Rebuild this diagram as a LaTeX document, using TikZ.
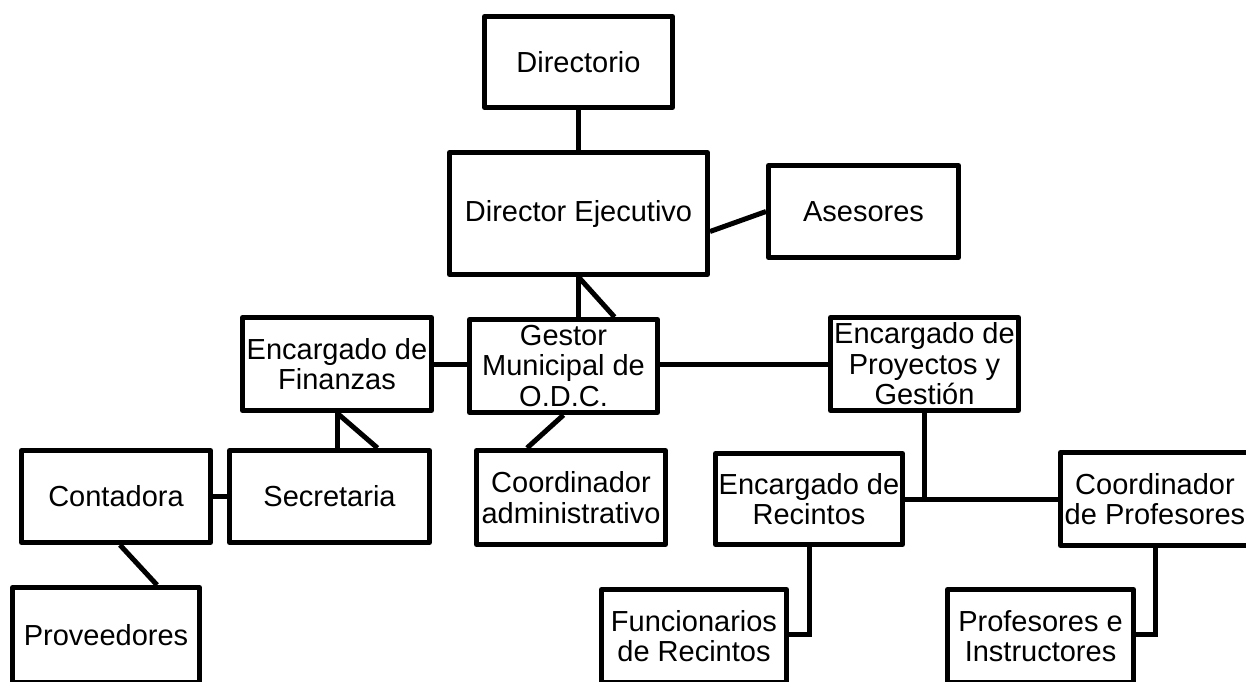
\documentclass[tikz,border=0pt]{standalone}
\usepackage{fontspec}
\setmainfont{Liberation Sans}
\usetikzlibrary{positioning}
\usetikzlibrary{calc}

\begin{document}
\begin{tikzpicture}[x=1pt,y=-1pt,
	caja/.style={draw, line width=5pt, line join=round, align=center, inner sep=0pt, font=\fontsize{29}{30.5}\selectfont},
	enlace/.style={line width=5pt}]
	\useasboundingbox (0,0) rectangle (1246,681);

	\node[caja, minimum width=188pt, minimum height=91pt] (dir) at (578.5,62) {Directorio};
	\node[caja, minimum width=258pt, minimum height=122pt] (dej) at (578.5,213.5) {Director Ejecutivo};
	\node[caja, minimum width=190pt, minimum height=92pt] (ase) at (863.5,211.5) {Asesores};
	\node[caja, minimum width=188pt, minimum height=93pt] (ges) at (563.5,366) {Gestor\\Municipal de\\O.D.C.};
	\node[caja, minimum width=189pt, minimum height=93pt] (fin) at (337,364) {Encargado de\\Finanzas};
	\node[caja, minimum width=188pt, minimum height=93pt] (pro) at (924.5,364) {Encargado de\\Proyectos y\\Gestión};
	\node[caja, minimum width=200pt, minimum height=92pt] (sec) at (329.5,496.5) {Secretaria};
	\node[caja, minimum width=189pt, minimum height=92pt] (con) at (116,496.5) {Contadora};
	\node[caja, minimum width=189pt, minimum height=94pt] (coa) at (571,497.5) {Coordinador\\administrativo};
	\node[caja, minimum width=187pt, minimum height=91pt] (rec) at (809,499) {Encargado de\\Recintos};
	\node[caja, minimum width=189pt, minimum height=93pt] (coo) at (1155,499) {Coordinador\\de Profesores};
	\node[caja, minimum width=187pt, minimum height=95pt] (prv) at (106,635) {Proveedores};
	\node[caja, minimum width=185pt, minimum height=93pt] (fun) at (694,636) {Funcionarios\\de Recintos};
	\node[caja, minimum width=186pt, minimum height=93pt] (prf) at (1040.5,636) {Profesores e\\Instructores};

	% lineas
	\draw[enlace] (dir.south) -- (dej.north);
	\draw[enlace] ([yshift=-18pt]dej.east) -- (ase.west);
	\draw[enlace] (dej.south) -- (dej.south |- ges.north);
	\draw[enlace] (dej.south) -- ([xshift=51pt]ges.north);
	\draw[enlace] (fin.east) -- (fin.east -| ges.west);
	\draw[enlace] (ges.east |- pro.west) -- (pro.west);
	\draw[enlace] (fin.south) -- (fin.south |- sec.north);
	\draw[enlace] (fin.south) -- ([xshift=48pt]sec.north);
	\draw[enlace] (con.east) -- (sec.west);
	\draw[enlace] ([xshift=4pt]con.south) -- ([xshift=51pt]prv.north);
	\draw[enlace] (ges.south) -- ([xshift=-44pt]coa.north);
	\draw[enlace] (pro.south) -- (pro.south |- rec.east);
	\draw[enlace] (rec.east) -- (coo.west);
	\draw[enlace] (rec.south) |- ([yshift=2pt]fun.east);
	\draw[enlace] (coo.south) |- ([yshift=2pt]prf.east);
\end{tikzpicture}
\end{document}
